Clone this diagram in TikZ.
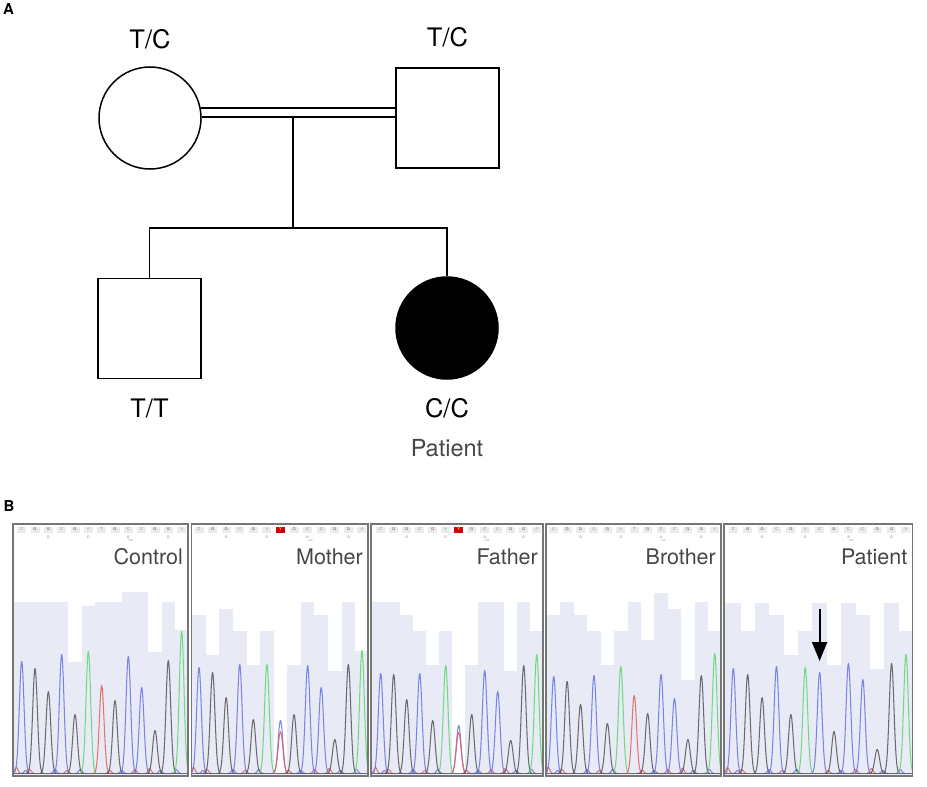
\documentclass[tikz,border=0pt]{standalone}
\usepackage{fontspec}
\setmainfont{TeX Gyre Heros}
\usetikzlibrary{positioning,arrows.meta}
\definecolor{baseC}{RGB}{105,115,225}
\definecolor{baseG}{RGB}{85,85,85}
\definecolor{baseA}{RGB}{95,215,105}
\definecolor{baseT}{RGB}{225,95,95}
\definecolor{qualfill}{RGB}{232,235,246}
\definecolor{framegray}{RGB}{118,118,118}
\definecolor{labelgray}{RGB}{70,70,70}
\colorlet{letterC}{baseC}
\colorlet{letterG}{baseG}
\colorlet{letterA}{baseA}
\colorlet{letterT}{baseT}
\colorlet{letterY}{white}
\colorlet{tagC}{black!8}
\colorlet{tagG}{black!8}
\colorlet{tagA}{black!8}
\colorlet{tagT}{black!8}
\colorlet{tagY}{red!85!black}

\tikzset{
  trace/.style={line width=1.05pt, opacity=0.85, line join=round},
  qualbar/.style={fill=qualfill},
  basebox/.style={inner sep=0pt, minimum width=9pt, minimum height=6pt, font=\fontsize{4}{4}\selectfont},
  aminotag/.style={text=black!50, inner sep=0pt, font=\fontsize{3.5}{3.5}\selectfont},
  panelframe/.style={draw=framegray, line width=1.4pt, inner sep=0pt, outer sep=0pt},
  seqlabel/.style={text=labelgray, inner sep=0pt, font=\fontsize{21.5}{22}\selectfont},
}

% #1 name, #2 left, #3 right, #4 first peak, #5 peak step, #6 label,
% #7 called bases, #8 quality bars, #9 peaks
\newcommand{\seqpanel}[9]{%
  \begin{scope}
    \clip (#2,524) rectangle (#3,776);
    \foreach \q [count=\i] in {#8} {
      \pgfmathsetmacro{\xl}{\i==1 ? #2 : #4+(\i-1.5)*#5}
      \pgfmathsetmacro{\xr}{\i==13 ? #3 : #4+(\i-0.5)*#5}
      \fill[qualbar] (\xl,{774-\q}) rectangle (\xr,776);
    }
    \foreach \k/\b/\h in {0.6/T/6,1.3/C/3,1.6/T/4,3.5/C/4,4.4/T/3,5.4/C/4,7.6/T/3,8.5/C/3,9.5/T/4,10.6/T/5,11.4/C/3,12.6/C/4} {
      \pgfmathsetmacro{\pk}{#4+(\k-1)*#5}
      \draw[trace, color=base\b] plot[domain=-5:5, samples=21, smooth] ({\pk+\x},{773.5-\h*exp(-(\x)*(\x)/5)});
    }
    \draw[trace, color=baseG] (#2,773.5) -- (#3,773.5);
    \foreach \k/\b/\h in {#9} {
      \pgfmathsetmacro{\pk}{#4+(\k-1)*#5}
      \draw[trace, color=base\b] plot[domain=-8:8, samples=33, smooth] ({\pk+\x},{773.5-\h*exp(-(\x)*(\x)/11)});
    }
  \end{scope}
  \foreach \b [count=\i] in {#7}
    \node[basebox, fill=tag\b, text=letter\b] at ({#4+(\i-1)*#5},529.5) {\b};
  \foreach \a [count=\i] in {G,D,A,G}
    \node[aminotag] at ({#4+(3*\i-1)*#5},537) {\a};
  \node[aminotag, font=\fontsize{2.5}{2.5}\selectfont] at ({#4+8.2*#5},541) {270};
  \node[panelframe, minimum width={(#3-#2)*1pt}, minimum height=252pt, anchor=north west] (#1) at (#2,524) {};
  \node[seqlabel, anchor=base east] (#1label) at ({#3-5},564) {#6};
}

\begin{document}
\begin{tikzpicture}[x=1pt, y=-1pt,
  female/.style={draw, circle, line width=1.5pt, minimum size=102pt, inner sep=0pt},
  male/.style={draw, rectangle, line width=1.5pt, minimum width=103pt, minimum height=100pt, inner sep=0pt},
  pedline/.style={line width=1.5pt},
  geno/.style={inner sep=0pt, font=\fontsize{25.5}{26}\selectfont},
  panelmark/.style={inner sep=0pt, font=\fontsize{15}{15}\bfseries\selectfont}]
  \useasboundingbox (0,0) rectangle (927,787);
  \node[panelmark, anchor=base west] (markA) at (3,14) {A};
  % pedigree
  \node[female] (mother) at (150,118) {};
  \node[male] (father) at (447.5,118) {};
  \node[male] (brother) at (149.5,328.5) {};
  \node[female, fill=black] (patient) at (447,328) {};
  \node[geno, above=17pt of mother] (motherGT) {T/C};
  \node[geno, above=20pt of father] (fatherGT) {T/C};
  \node[geno, below=19.5pt of brother] (brotherGT) {T/T};
  \node[geno, below=18.5pt of patient] (patientGT) {C/C};
  \node[geno, below=21pt of patientGT, text=labelgray, font=\fontsize{23.5}{24}\selectfont] (patientTag) {Patient};
  \coordinate (sibs) at (293,228);
  \coordinate (drop) at (sibs |- mother.1);
  \draw[pedline] (mother.11) -- (mother.11 -| father.west);
  \draw[pedline] (mother.1) -- (mother.1 -| father.west);
  \draw[pedline] (drop) -- (sibs);
  \draw[pedline] (brother.north) |- (sibs) -| (patient.north);
  % chromatograms
  \node[panelmark, anchor=base west] (markB) at (3.5,511) {B};
  \seqpanel{control}{13}{188}{21.7}{13.33}{Control}{C,G,G,C,G,A,T,G,C,C,G,G,A}
    {172,172,172,172,112,168,172,172,182,182,122,172,144}
    {1/C/112,2/G/105,3/G/82,4/C/119,5/G/59,6/A/122,7/T/88,8/G/73,9/C/117,10/C/86,11/G/43,12/G/113,13/A/142}
  \seqpanel{mother}{191.5}{368}{199}{13.58}{Mother}{C,G,G,C,G,A,Y,G,C,C,G,G,A}
    {159,119,165,143,109,143,0,109,172,159,103,172,123}
    {1/C/106,2/G/101,3/G/76,4/C/109,5/G/54,6/A/109,7/C/53,7/T/42,8/G/59,9/C/108,10/C/86,11/G/34,12/G/109,13/A/123}
  \seqpanel{father}{371}{543}{380.7}{13.0}{Father}{C,G,G,C,G,A,Y,G,C,C,G,G,A}
    {172,172,159,143,109,143,0,109,172,172,103,172,143}
    {1/C/100,2/G/99,3/G/74,4/C/100,5/G/53,6/A/108,7/C/48,7/T/41,8/G/59,9/C/103,10/C/82,11/G/33,12/G/108,13/A/119}
  \seqpanel{brother}{546}{721}{553.7}{13.42}{Brother}{C,G,G,C,G,A,T,G,C,C,G,G,A}
    {159,172,159,143,109,143,172,134,181,165,94,172,143}
    {1/C/97,2/G/92,3/G/69,4/C/98,5/G/50,6/A/107,7/T/78,8/G/60,9/C/99,10/C/75,11/G/34,12/G/98,13/A/120}
  \seqpanel{patient}{724}{912.5}{733.3}{14.39}{Patient}{C,G,G,C,G,A,C,G,C,C,G,G,A}
    {171,143,171,159,119,143,171,109,171,159,105,171,143}
    {1/C/105,2/G/99,3/G/76,4/C/107,5/G/59,6/A/106,7/C/101,8/G/42,9/C/110,10/C/94,11/G/24,12/G/110,13/A/119}
  \coordinate (mutTop) at (819.6,609);
  \coordinate (mutTip) at (819.6,661);
  \draw[-{Triangle[length=19pt,width=15pt]}, line width=2pt] (mutTop) -- (mutTip);
\end{tikzpicture}
\end{document}
